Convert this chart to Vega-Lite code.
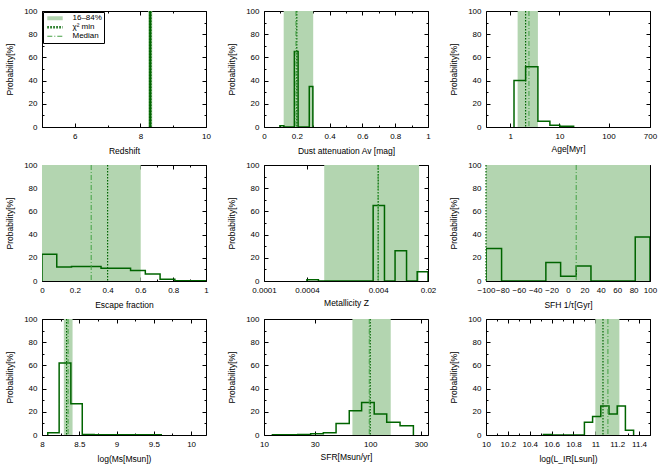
{
  "$schema": "https://vega.github.io/schema/vega-lite/v6.json",
  "background": "white",
  "padding": {"left": 5, "top": 7, "right": 5, "bottom": 5},
  "columns": 3,
  "spacing": {"row": 38, "column": 58},
  "bounds": "flush",
  "resolve": {
    "scale": {"color": "independent", "strokeDash": "independent", "strokeWidth": "independent"},
    "legend": {"color": "independent", "strokeDash": "independent", "strokeWidth": "independent"}
  },
  "config": {
    "font": "Liberation Sans",
    "view": {"stroke": null},
    "axis": {
      "grid": false, "domain": true, "domainColor": "#000", "domainWidth": 1,
      "tickColor": "#000", "tickWidth": 1, "labelFontSize": 8, "titleFontSize": 8.5,
      "titleFontWeight": "normal", "labelColor": "#000", "titleColor": "#000",
      "labelPadding": 9, "titlePadding": 4, "labelFlush": false, "labelOverlap": false,
      "labelBound": false, "zindex": 1
    },
    "axisLeft": {"titlePadding": 9},
    "legend": {
      "orient": "top-left", "offset": 1, "strokeColor": "#000", "fillColor": "#fff",
      "padding": 2, "labelFontSize": 8, "symbolType": "M-2.2,0H2.2", "symbolSize": 49,
      "symbolOffset": 4.5, "rowPadding": 0, "clipHeight": 8.5, "cornerRadius": 0, "labelColor": "#000",
      "labelOffset": 12
    }
  },
  "concat": [
    {
      "width": 164, "height": 116,
      "resolve": {"axis": {"x": "independent", "y": "independent"}},
      "layer": [
        {
          "data": {"values": [{"key": "16–84%", "v": 8.3}, {"key": "χ² min", "v": 8.3}, {"key": "Median", "v": 8.3}]},
          "mark": {"type": "rule"},
          "encoding": {
            "x": {"field": "v", "type": "quantitative", "scale": {"domain": [5, 10], "nice": false, "zero": false},
                  "axis": {"orient": "top", "title": null, "labels": false, "values": [5, 6, 7, 8, 9, 10],
                           "tickSize": {"condition": {"test": "datum.value % 2 == 0", "value": -4}, "value": -2}}},
            "y": {"datum": 0, "type": "quantitative", "scale": {"domain": [0, 100], "nice": false},
                  "axis": {"orient": "right", "title": null, "labels": false, "values": [0, 10, 20, 30, 40, 50, 60, 70, 80, 90, 100],
                           "tickSize": {"condition": {"test": "datum.value % 20 == 0", "value": -4}, "value": -2}}},
            "y2": {"datum": 100},
            "color": {"field": "key", "type": "nominal", "title": null,
                      "scale": {"domain": ["16–84%", "χ² min", "Median"], "range": ["#b3d5b0", "#006400", "#44a044"]}},
            "strokeDash": {"field": "key", "type": "nominal", "title": null,
                      "scale": {"domain": ["16–84%", "χ² min", "Median"], "range": [[1, 0], [1.5, 1.5], [5, 2, 1, 2]]}},
            "strokeWidth": {"field": "key", "type": "nominal", "title": null,
                      "scale": {"domain": ["16–84%", "χ² min", "Median"], "range": [4, 1.2, 1]}}
          }
        },
        {
          "data": {"values": [{"x": 8.29, "p": 0}, {"x": 8.29, "p": 100}, {"x": 8.31, "p": 0}]},
          "mark": {"type": "line", "interpolate": "step-after", "color": "#006400", "strokeWidth": 1.5, "clip": true},
          "encoding": {
            "x": {"field": "x", "type": "quantitative", "axis": {"orient": "bottom", "title": "Redshift", "values": [5, 6, 7, 8, 9, 10],
                  "labelExpr": "datum.value % 2 == 0 ? datum.label : ''",
                  "tickSize": {"condition": {"test": "datum.value % 2 == 0", "value": -4}, "value": -2}}},
            "y": {"field": "p", "type": "quantitative", "axis": {"orient": "left", "title": "Probability[%]", "values": [0, 10, 20, 30, 40, 50, 60, 70, 80, 90, 100],
                  "labelExpr": "datum.value % 20 == 0 ? datum.label : ''",
                  "tickSize": {"condition": {"test": "datum.value % 20 == 0", "value": -4}, "value": -2}}},
            "order": {"value": null}
          }
        }
      ]
    },
    {
      "width": 164, "height": 116,
      "resolve": {"axis": {"x": "independent", "y": "independent"}},
      "layer": [
        {
          "data": {"values": [{"lo": 0.12, "hi": 0.3}]},
          "mark": {"type": "rect", "color": "#b3d5b0"},
          "encoding": {
            "x": {"field": "lo", "type": "quantitative", "scale": {"domain": [0, 1], "nice": false, "zero": false},
                  "axis": {"orient": "top", "title": null, "labels": false, "values": [0, 0.1, 0.2, 0.3, 0.4, 0.5, 0.6, 0.7, 0.8, 0.9, 1],
                           "tickSize": {"condition": {"test": "round(datum.value*10) % 2 == 0", "value": -4}, "value": -2}}},
            "x2": {"field": "hi"},
            "y": {"datum": 0, "type": "quantitative", "scale": {"domain": [0, 100], "nice": false},
                  "axis": {"orient": "right", "title": null, "labels": false, "values": [0, 10, 20, 30, 40, 50, 60, 70, 80, 90, 100],
                           "tickSize": {"condition": {"test": "datum.value % 20 == 0", "value": -4}, "value": -2}}},
            "y2": {"datum": 100}
          }
        },
        {
          "data": {"values": [{"x": 0.097, "p": 0}, {"x": 0.097, "p": 1}, {"x": 0.121, "p": 0}, {"x": 0.185, "p": 65}, {"x": 0.208, "p": 0}, {"x": 0.276, "p": 35}, {"x": 0.298, "p": 0}]},
          "mark": {"type": "line", "interpolate": "step-after", "color": "#006400", "strokeWidth": 1.5, "clip": true},
          "encoding": {
            "x": {"field": "x", "type": "quantitative", "axis": {"orient": "bottom", "title": "Dust attenuation Av [mag]", "format": "~g",
                  "values": [0, 0.1, 0.2, 0.3, 0.4, 0.5, 0.6, 0.7, 0.8, 0.9, 1],
                  "labelExpr": "round(datum.value*10) % 2 == 0 ? datum.label : ''",
                  "tickSize": {"condition": {"test": "round(datum.value*10) % 2 == 0", "value": -4}, "value": -2}}},
            "y": {"field": "p", "type": "quantitative", "axis": {"orient": "left", "title": "Probability[%]", "values": [0, 10, 20, 30, 40, 50, 60, 70, 80, 90, 100],
                  "labelExpr": "datum.value % 20 == 0 ? datum.label : ''",
                  "tickSize": {"condition": {"test": "datum.value % 20 == 0", "value": -4}, "value": -2}}},
            "order": {"value": null}
          }
        },
        {
          "data": {"values": [{"chi2": 0.2, "median": 0.195}]},
          "mark": {"type": "rule", "color": "#006400", "strokeDash": [1.5, 1.5], "strokeWidth": 1.2},
          "encoding": {"x": {"field": "chi2", "type": "quantitative", "axis": null}}
        },
        {
          "data": {"values": [{"chi2": 0.2, "median": 0.195}]},
          "mark": {"type": "rule", "color": "#44a044", "strokeDash": [5, 2, 1, 2], "strokeWidth": 1},
          "encoding": {"x": {"field": "median", "type": "quantitative", "axis": null}}
        }
      ]
    },
    {
      "width": 164, "height": 116,
      "resolve": {"axis": {"x": "independent", "y": "independent"}},
      "layer": [
        {
          "data": {"values": [{"lo": 1.41, "hi": 3.65}]},
          "mark": {"type": "rect", "color": "#b3d5b0"},
          "encoding": {
            "x": {"field": "lo", "type": "quantitative", "scale": {"type": "log", "domain": [0.32, 700], "nice": false},
                  "axis": {"orient": "top", "title": null, "labels": false, "values": [1, 10, 100, 700], "tickSize": -4}},
            "x2": {"field": "hi"},
            "y": {"datum": 0, "type": "quantitative", "scale": {"domain": [0, 100], "nice": false},
                  "axis": {"orient": "right", "title": null, "labels": false, "values": [0, 10, 20, 30, 40, 50, 60, 70, 80, 90, 100],
                           "tickSize": {"condition": {"test": "datum.value % 20 == 0", "value": -4}, "value": -2}}},
            "y2": {"datum": 100}
          }
        },
        {
          "data": {"values": [{"x": 1.19, "p": 0}, {"x": 1.19, "p": 40}, {"x": 2.05, "p": 52}, {"x": 3.65, "p": 5}, {"x": 6.4, "p": 1.5}, {"x": 10.2, "p": 0.6}, {"x": 19.5, "p": 0}]},
          "mark": {"type": "line", "interpolate": "step-after", "color": "#006400", "strokeWidth": 1.5, "clip": true},
          "encoding": {
            "x": {"field": "x", "type": "quantitative", "axis": {"orient": "bottom", "title": "Age[Myr]", "format": "~g", "values": [1, 10, 100, 700], "tickSize": -4}},
            "y": {"field": "p", "type": "quantitative", "axis": {"orient": "left", "title": "Probability[%]", "values": [0, 10, 20, 30, 40, 50, 60, 70, 80, 90, 100],
                  "labelExpr": "datum.value % 20 == 0 ? datum.label : ''",
                  "tickSize": {"condition": {"test": "datum.value % 20 == 0", "value": -4}, "value": -2}}},
            "order": {"value": null}
          }
        },
        {
          "data": {"values": [{"chi2": 2.05, "median": 2.4}]},
          "mark": {"type": "rule", "color": "#006400", "strokeDash": [1.5, 1.5], "strokeWidth": 1.2},
          "encoding": {"x": {"field": "chi2", "type": "quantitative", "axis": null}}
        },
        {
          "data": {"values": [{"chi2": 2.05, "median": 2.4}]},
          "mark": {"type": "rule", "color": "#44a044", "strokeDash": [5, 2, 1, 2], "strokeWidth": 1},
          "encoding": {"x": {"field": "median", "type": "quantitative", "axis": null}}
        }
      ]
    },
    {
      "width": 164, "height": 116,
      "resolve": {"axis": {"x": "independent", "y": "independent"}},
      "layer": [
        {
          "data": {"values": [{"lo": 0, "hi": 0.602}]},
          "mark": {"type": "rect", "color": "#b3d5b0"},
          "encoding": {
            "x": {"field": "lo", "type": "quantitative", "scale": {"domain": [0, 1], "nice": false, "zero": false},
                  "axis": {"orient": "top", "title": null, "labels": false, "values": [0, 0.1, 0.2, 0.3, 0.4, 0.5, 0.6, 0.7, 0.8, 0.9, 1],
                           "tickSize": {"condition": {"test": "round(datum.value*10) % 2 == 0", "value": -4}, "value": -2}}},
            "x2": {"field": "hi"},
            "y": {"datum": 0, "type": "quantitative", "scale": {"domain": [0, 100], "nice": false},
                  "axis": {"orient": "right", "title": null, "labels": false, "values": [0, 10, 20, 30, 40, 50, 60, 70, 80, 90, 100],
                           "tickSize": {"condition": {"test": "datum.value % 20 == 0", "value": -4}, "value": -2}}},
            "y2": {"datum": 100}
          }
        },
        {
          "data": {"values": [{"x": 0, "p": 0}, {"x": 0, "p": 23}, {"x": 0.09, "p": 12}, {"x": 0.18, "p": 12.5}, {"x": 0.36, "p": 11}, {"x": 0.54, "p": 9}, {"x": 0.63, "p": 6}, {"x": 0.72, "p": 1.5}, {"x": 0.81, "p": 0.3}, {"x": 1, "p": 0}]},
          "mark": {"type": "line", "interpolate": "step-after", "color": "#006400", "strokeWidth": 1.5, "clip": true},
          "encoding": {
            "x": {"field": "x", "type": "quantitative", "axis": {"orient": "bottom", "title": "Escape fraction", "format": "~g",
                  "values": [0, 0.1, 0.2, 0.3, 0.4, 0.5, 0.6, 0.7, 0.8, 0.9, 1],
                  "labelExpr": "round(datum.value*10) % 2 == 0 ? datum.label : ''",
                  "tickSize": {"condition": {"test": "round(datum.value*10) % 2 == 0", "value": -4}, "value": -2}}},
            "y": {"field": "p", "type": "quantitative", "axis": {"orient": "left", "title": "Probability[%]", "values": [0, 10, 20, 30, 40, 50, 60, 70, 80, 90, 100],
                  "labelExpr": "datum.value % 20 == 0 ? datum.label : ''",
                  "tickSize": {"condition": {"test": "datum.value % 20 == 0", "value": -4}, "value": -2}}},
            "order": {"value": null}
          }
        },
        {
          "data": {"values": [{"chi2": 0.4, "median": 0.3}]},
          "mark": {"type": "rule", "color": "#006400", "strokeDash": [1.5, 1.5], "strokeWidth": 1.2},
          "encoding": {"x": {"field": "chi2", "type": "quantitative", "axis": null}}
        },
        {
          "data": {"values": [{"chi2": 0.4, "median": 0.3}]},
          "mark": {"type": "rule", "color": "#44a044", "strokeDash": [5, 2, 1, 2], "strokeWidth": 1},
          "encoding": {"x": {"field": "median", "type": "quantitative", "axis": null}}
        }
      ]
    },
    {
      "width": 164, "height": 116,
      "resolve": {"axis": {"x": "independent", "y": "independent"}},
      "layer": [
        {
          "data": {"values": [{"lo": 0.0007, "hi": 0.015}]},
          "mark": {"type": "rect", "color": "#b3d5b0"},
          "encoding": {
            "x": {"field": "lo", "type": "quantitative", "scale": {"type": "log", "domain": [0.0001, 0.02], "nice": false},
                  "axis": {"orient": "top", "title": null, "labels": false, "values": [0.0001, 0.0004, 0.004, 0.02], "tickSize": -4}},
            "x2": {"field": "hi"},
            "y": {"datum": 0, "type": "quantitative", "scale": {"domain": [0, 100], "nice": false},
                  "axis": {"orient": "right", "title": null, "labels": false, "values": [0, 10, 20, 30, 40, 50, 60, 70, 80, 90, 100],
                           "tickSize": {"condition": {"test": "datum.value % 20 == 0", "value": -4}, "value": -2}}},
            "y2": {"datum": 100}
          }
        },
        {
          "data": {"values": [{"x": 0.0004, "p": 0}, {"x": 0.0004, "p": 1}, {"x": 0.00058, "p": 0}, {"x": 0.0034, "p": 65}, {"x": 0.0049, "p": 0}, {"x": 0.0069, "p": 26}, {"x": 0.01, "p": 0}, {"x": 0.0141, "p": 8}, {"x": 0.02, "p": 0}]},
          "mark": {"type": "line", "interpolate": "step-after", "color": "#006400", "strokeWidth": 1.5, "clip": true},
          "encoding": {
            "x": {"field": "x", "type": "quantitative", "axis": {"orient": "bottom", "title": "Metallicity Z", "format": "~g", "values": [0.0001, 0.0004, 0.004, 0.02], "tickSize": -4}},
            "y": {"field": "p", "type": "quantitative", "axis": {"orient": "left", "title": "Probability[%]", "values": [0, 10, 20, 30, 40, 50, 60, 70, 80, 90, 100],
                  "labelExpr": "datum.value % 20 == 0 ? datum.label : ''",
                  "tickSize": {"condition": {"test": "datum.value % 20 == 0", "value": -4}, "value": -2}}},
            "order": {"value": null}
          }
        },
        {
          "data": {"values": [{"chi2": 0.004, "median": 0.004}]},
          "mark": {"type": "rule", "color": "#006400", "strokeDash": [1.5, 1.5], "strokeWidth": 1.2},
          "encoding": {"x": {"field": "chi2", "type": "quantitative", "axis": null}}
        },
        {
          "data": {"values": [{"chi2": 0.004, "median": 0.004}]},
          "mark": {"type": "rule", "color": "#44a044", "strokeDash": [5, 2, 1, 2], "strokeWidth": 1},
          "encoding": {"x": {"field": "median", "type": "quantitative", "axis": null}}
        }
      ]
    },
    {
      "width": 164, "height": 116,
      "resolve": {"axis": {"x": "independent", "y": "independent"}},
      "layer": [
        {
          "data": {"values": [{"lo": -100, "hi": 100}]},
          "mark": {"type": "rect", "color": "#b3d5b0"},
          "encoding": {
            "x": {"field": "lo", "type": "quantitative", "scale": {"domain": [-100, 100], "nice": false, "zero": false},
                  "axis": {"orient": "top", "title": null, "labels": false, "values": [-100, -90, -80, -70, -60, -50, -40, -30, -20, -10, 0, 10, 20, 30, 40, 50, 60, 70, 80, 90, 100],
                           "tickSize": {"condition": {"test": "datum.value % 20 == 0", "value": -4}, "value": -2}}},
            "x2": {"field": "hi"},
            "y": {"datum": 0, "type": "quantitative", "scale": {"domain": [0, 100], "nice": false},
                  "axis": {"orient": "right", "title": null, "labels": false, "values": [0, 10, 20, 30, 40, 50, 60, 70, 80, 90, 100],
                           "tickSize": {"condition": {"test": "datum.value % 20 == 0", "value": -4}, "value": -2}}},
            "y2": {"datum": 100}
          }
        },
        {
          "data": {"values": [{"x": -100, "p": 0}, {"x": -100, "p": 28}, {"x": -81, "p": 0}, {"x": -27, "p": 16}, {"x": -9, "p": 4}, {"x": 10, "p": 13}, {"x": 28, "p": 0}, {"x": 82, "p": 38}, {"x": 100, "p": 0}]},
          "mark": {"type": "line", "interpolate": "step-after", "color": "#006400", "strokeWidth": 1.5, "clip": true},
          "encoding": {
            "x": {"field": "x", "type": "quantitative", "axis": {"orient": "bottom", "title": "SFH 1/τ[Gyr]",
                  "values": [-100, -90, -80, -70, -60, -50, -40, -30, -20, -10, 0, 10, 20, 30, 40, 50, 60, 70, 80, 90, 100],
                  "labelExpr": "datum.value % 20 == 0 ? datum.label : ''",
                  "tickSize": {"condition": {"test": "datum.value % 20 == 0", "value": -4}, "value": -2}}},
            "y": {"field": "p", "type": "quantitative", "axis": {"orient": "left", "title": "Probability[%]", "values": [0, 10, 20, 30, 40, 50, 60, 70, 80, 90, 100],
                  "labelExpr": "datum.value % 20 == 0 ? datum.label : ''",
                  "tickSize": {"condition": {"test": "datum.value % 20 == 0", "value": -4}, "value": -2}}},
            "order": {"value": null}
          }
        },
        {
          "data": {"values": [{"chi2": -100, "median": 10}]},
          "mark": {"type": "rule", "color": "#006400", "strokeDash": [1.5, 1.5], "strokeWidth": 1.2},
          "encoding": {"x": {"field": "chi2", "type": "quantitative", "axis": null}}
        },
        {
          "data": {"values": [{"chi2": -100, "median": 10}]},
          "mark": {"type": "rule", "color": "#44a044", "strokeDash": [5, 2, 1, 2], "strokeWidth": 1},
          "encoding": {"x": {"field": "median", "type": "quantitative", "axis": null}}
        }
      ]
    },
    {
      "width": 164, "height": 116,
      "resolve": {"axis": {"x": "independent", "y": "independent"}},
      "layer": [
        {
          "data": {"values": [{"lo": 8.293, "hi": 8.41}]},
          "mark": {"type": "rect", "color": "#b3d5b0"},
          "encoding": {
            "x": {"field": "lo", "type": "quantitative", "scale": {"domain": [8, 10.2], "nice": false, "zero": false},
                  "axis": {"orient": "top", "title": null, "labels": false, "values": [8, 8.25, 8.5, 8.75, 9, 9.25, 9.5, 9.75, 10],
                           "tickSize": {"condition": {"test": "round(datum.value*100) % 50 == 0", "value": -4}, "value": -2}}},
            "x2": {"field": "hi"},
            "y": {"datum": 0, "type": "quantitative", "scale": {"domain": [0, 100], "nice": false},
                  "axis": {"orient": "right", "title": null, "labels": false, "values": [0, 10, 20, 30, 40, 50, 60, 70, 80, 90, 100],
                           "tickSize": {"condition": {"test": "datum.value % 20 == 0", "value": -4}, "value": -2}}},
            "y2": {"datum": 100}
          }
        },
        {
          "data": {"values": [{"x": 8.077, "p": 0}, {"x": 8.077, "p": 2}, {"x": 8.23, "p": 62}, {"x": 8.387, "p": 27}, {"x": 8.54, "p": 0.5}, {"x": 8.7, "p": 0.2}, {"x": 9.6, "p": 0}]},
          "mark": {"type": "line", "interpolate": "step-after", "color": "#006400", "strokeWidth": 1.5, "clip": true},
          "encoding": {
            "x": {"field": "x", "type": "quantitative", "axis": {"orient": "bottom", "title": "log(Ms[Msun])", "format": "~g",
                  "values": [8, 8.25, 8.5, 8.75, 9, 9.25, 9.5, 9.75, 10],
                  "labelExpr": "round(datum.value*100) % 50 == 0 ? datum.label : ''",
                  "tickSize": {"condition": {"test": "round(datum.value*100) % 50 == 0", "value": -4}, "value": -2}}},
            "y": {"field": "p", "type": "quantitative", "axis": {"orient": "left", "title": "Probability[%]", "values": [0, 10, 20, 30, 40, 50, 60, 70, 80, 90, 100],
                  "labelExpr": "datum.value % 20 == 0 ? datum.label : ''",
                  "tickSize": {"condition": {"test": "datum.value % 20 == 0", "value": -4}, "value": -2}}},
            "order": {"value": null}
          }
        },
        {
          "data": {"values": [{"chi2": 8.33, "median": 8.35}]},
          "mark": {"type": "rule", "color": "#006400", "strokeDash": [1.5, 1.5], "strokeWidth": 1.2},
          "encoding": {"x": {"field": "chi2", "type": "quantitative", "axis": null}}
        },
        {
          "data": {"values": [{"chi2": 8.33, "median": 8.35}]},
          "mark": {"type": "rule", "color": "#44a044", "strokeDash": [5, 2, 1, 2], "strokeWidth": 1},
          "encoding": {"x": {"field": "median", "type": "quantitative", "axis": null}}
        }
      ]
    },
    {
      "width": 164, "height": 116,
      "resolve": {"axis": {"x": "independent", "y": "independent"}},
      "layer": [
        {
          "data": {"values": [{"lo": 68, "hi": 156}]},
          "mark": {"type": "rect", "color": "#b3d5b0"},
          "encoding": {
            "x": {"field": "lo", "type": "quantitative", "scale": {"type": "log", "domain": [10, 350], "nice": false},
                  "axis": {"orient": "top", "title": null, "labels": false, "values": [10, 30, 100, 300], "tickSize": -4}},
            "x2": {"field": "hi"},
            "y": {"datum": 0, "type": "quantitative", "scale": {"domain": [0, 100], "nice": false},
                  "axis": {"orient": "right", "title": null, "labels": false, "values": [0, 10, 20, 30, 40, 50, 60, 70, 80, 90, 100],
                           "tickSize": {"condition": {"test": "datum.value % 20 == 0", "value": -4}, "value": -2}}},
            "y2": {"datum": 100}
          }
        },
        {
          "data": {"values": [{"x": 12, "p": 0}, {"x": 12, "p": 0.3}, {"x": 20.8, "p": 0.5}, {"x": 27.5, "p": 1}, {"x": 36.2, "p": 2}, {"x": 47.7, "p": 10}, {"x": 63.5, "p": 21}, {"x": 83, "p": 28}, {"x": 109, "p": 18}, {"x": 143, "p": 11}, {"x": 191, "p": 8}, {"x": 255, "p": 0}]},
          "mark": {"type": "line", "interpolate": "step-after", "color": "#006400", "strokeWidth": 1.5, "clip": true},
          "encoding": {
            "x": {"field": "x", "type": "quantitative", "axis": {"orient": "bottom", "title": "SFR[Msun/yr]", "format": "~g", "values": [10, 30, 100, 300], "tickSize": -4}},
            "y": {"field": "p", "type": "quantitative", "axis": {"orient": "left", "title": "Probability[%]", "values": [0, 10, 20, 30, 40, 50, 60, 70, 80, 90, 100],
                  "labelExpr": "datum.value % 20 == 0 ? datum.label : ''",
                  "tickSize": {"condition": {"test": "datum.value % 20 == 0", "value": -4}, "value": -2}}},
            "order": {"value": null}
          }
        },
        {
          "data": {"values": [{"chi2": 100, "median": 98}]},
          "mark": {"type": "rule", "color": "#006400", "strokeDash": [1.5, 1.5], "strokeWidth": 1.2},
          "encoding": {"x": {"field": "chi2", "type": "quantitative", "axis": null}}
        },
        {
          "data": {"values": [{"chi2": 100, "median": 98}]},
          "mark": {"type": "rule", "color": "#44a044", "strokeDash": [5, 2, 1, 2], "strokeWidth": 1},
          "encoding": {"x": {"field": "median", "type": "quantitative", "axis": null}}
        }
      ]
    },
    {
      "width": 164, "height": 116,
      "resolve": {"axis": {"x": "independent", "y": "independent"}},
      "layer": [
        {
          "data": {"values": [{"lo": 11.0, "hi": 11.22}]},
          "mark": {"type": "rect", "color": "#b3d5b0"},
          "encoding": {
            "x": {"field": "lo", "type": "quantitative", "scale": {"domain": [10, 11.5], "nice": false, "zero": false},
                  "axis": {"orient": "top", "title": null, "labels": false, "values": [10, 10.1, 10.2, 10.3, 10.4, 10.5, 10.6, 10.7, 10.8, 10.9, 11, 11.1, 11.2, 11.3, 11.4, 11.5],
                           "tickSize": {"condition": {"test": "round(datum.value*10) % 2 == 0", "value": -4}, "value": -2}}},
            "x2": {"field": "hi"},
            "y": {"datum": 0, "type": "quantitative", "scale": {"domain": [0, 100], "nice": false},
                  "axis": {"orient": "right", "title": null, "labels": false, "values": [0, 10, 20, 30, 40, 50, 60, 70, 80, 90, 100],
                           "tickSize": {"condition": {"test": "datum.value % 20 == 0", "value": -4}, "value": -2}}},
            "y2": {"datum": 100}
          }
        },
        {
          "data": {"values": [{"x": 10.525, "p": 0}, {"x": 10.525, "p": 0.5}, {"x": 10.6, "p": 0}, {"x": 10.9, "p": 11}, {"x": 10.975, "p": 16}, {"x": 11.05, "p": 25}, {"x": 11.125, "p": 18}, {"x": 11.2, "p": 25}, {"x": 11.275, "p": 4}, {"x": 11.35, "p": 0}]},
          "mark": {"type": "line", "interpolate": "step-after", "color": "#006400", "strokeWidth": 1.5, "clip": true},
          "encoding": {
            "x": {"field": "x", "type": "quantitative", "axis": {"orient": "bottom", "title": "log(L_IR[Lsun])", "format": "~g",
                  "values": [10, 10.1, 10.2, 10.3, 10.4, 10.5, 10.6, 10.7, 10.8, 10.9, 11, 11.1, 11.2, 11.3, 11.4, 11.5],
                  "labelExpr": "round(datum.value*10) % 2 == 0 && datum.value < 11.45 ? datum.label : ''",
                  "tickSize": {"condition": {"test": "round(datum.value*10) % 2 == 0", "value": -4}, "value": -2}}},
            "y": {"field": "p", "type": "quantitative", "axis": {"orient": "left", "title": "Probability[%]", "values": [0, 10, 20, 30, 40, 50, 60, 70, 80, 90, 100],
                  "labelExpr": "datum.value % 20 == 0 ? datum.label : ''",
                  "tickSize": {"condition": {"test": "datum.value % 20 == 0", "value": -4}, "value": -2}}},
            "order": {"value": null}
          }
        },
        {
          "data": {"values": [{"chi2": 11.07, "median": 11.115}]},
          "mark": {"type": "rule", "color": "#006400", "strokeDash": [1.5, 1.5], "strokeWidth": 1.2},
          "encoding": {"x": {"field": "chi2", "type": "quantitative", "axis": null}}
        },
        {
          "data": {"values": [{"chi2": 11.07, "median": 11.115}]},
          "mark": {"type": "rule", "color": "#44a044", "strokeDash": [5, 2, 1, 2], "strokeWidth": 1},
          "encoding": {"x": {"field": "median", "type": "quantitative", "axis": null}}
        }
      ]
    }
  ]
}
